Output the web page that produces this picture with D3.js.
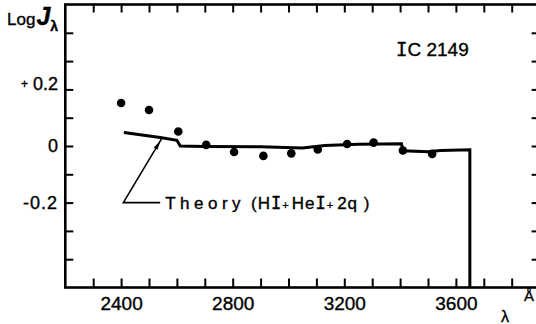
<!DOCTYPE html>
<html>
<head>
<meta charset="utf-8">
<script src="https://cdn.jsdelivr.net/npm/d3@7"></script>
<style>
  body { margin: 0; background: #fff; }
  svg { display: block; font-family: "Liberation Sans", Arial, sans-serif; }
  text { stroke: #000; stroke-width: 0.35; }
</style>
</head>
<body>
<svg id="chart" width="536" height="324"></svg>
<script>
// observed points (log J_lambda vs wavelength in A)
const obsLambda = [2400, 2500, 2605, 2705, 2805, 2910, 3010, 3105, 3210, 3305, 3410, 3515];
const obsLogJ = [0.152, 0.127, 0.051, 0.004, -0.021, -0.035, -0.026, -0.012, 0.007, 0.012, -0.016, -0.028];

// theory curve (HI + HeI + 2q)
const theoryLambda = [2410, 2540, 2600, 2612, 2700, 2900, 3050, 3130, 3250, 3405, 3410, 3500, 3545, 3650, 3650];
const theoryLogJ = [0.048, 0.030, 0.020, 0.000, -0.002, -0.003, -0.007, 0.002, 0.006, 0.008, -0.017, -0.020, -0.016, -0.013, -0.5];

// ticks and labels
const xTickStep = 100;
const xLabels = [2400, 2800, 3200, 3600];
const yTicks = [-0.4, -0.3, -0.2, -0.1, 0, 0.1, 0.2, 0.3, 0.4];
const yLabels = [[0.2, "+"], [0, ""], [-0.2, "-"]];

const svg = d3.select("#chart");
const SERIF_I = "DejaVu Sans Mono, monospace";  // "I" with bars, as in the scan

const x = d3.scaleLinear().domain([2200, 3900]).range([65.3, 539.6]);
const y = d3.scaleLinear().domain([-0.5, 0.5]).range([287.5, 4.5]);

const xTicks = d3.range(2300, 3900, xTickStep);

// frame
svg.append("rect")
    .attr("x", x(2200)).attr("y", y(0.5))
    .attr("width", x(3900) - x(2200)).attr("height", y(-0.5) - y(0.5))
    .attr("fill", "none").attr("stroke", "#000").attr("stroke-width", 2.6);

// bottom axis
svg.append("g")
    .attr("transform", `translate(0,${y(-0.5)})`)
    .call(d3.axisBottom(x).tickValues(xTicks).tickSize(-9).tickPadding(9)
        .tickFormat(d => xLabels.includes(d) ? d : ""))
    .call(g => g.select(".domain").remove())
    .call(g => g.selectAll("line").attr("stroke", "#000").attr("stroke-width", 2))
    .call(g => g.selectAll("text").attr("font-size", 19).attr("fill", "#000")
        .attr("font-family", "Liberation Sans, Arial, sans-serif"));

// top axis (ticks only)
svg.append("g")
    .attr("transform", `translate(0,${y(0.5)})`)
    .call(d3.axisTop(x).tickValues(xTicks).tickSize(-8).tickFormat(""))
    .call(g => g.select(".domain").remove())
    .call(g => g.selectAll("line").attr("stroke", "#000").attr("stroke-width", 2));

// left axis
svg.append("g")
    .attr("transform", `translate(${x(2200)},0)`)
    .call(d3.axisLeft(y).tickValues(yTicks).tickSize(-8).tickFormat(""))
    .call(g => g.select(".domain").remove())
    .call(g => g.selectAll("line").attr("stroke", "#000").attr("stroke-width", 2));

// right axis
svg.append("g")
    .attr("transform", `translate(${x(3900)},0)`)
    .call(d3.axisRight(y).tickValues(yTicks).tickSize(-8).tickFormat(""))
    .call(g => g.select(".domain").remove())
    .call(g => g.selectAll("line").attr("stroke", "#000").attr("stroke-width", 2));

// y labels
const yl = svg.append("g").attr("font-size", 18).attr("text-anchor", "end");
yLabels.forEach(([v, sign]) => {
    const t = yl.append("text").attr("x", 58).attr("y", y(v)).attr("dy", "0.36em");
    if (sign === "+") {
        t.append("tspan").attr("font-size", 12).attr("dy", "-0.1em").text("+");
        t.append("tspan").attr("dx", 5).attr("dy", "0.1em").text(d3.format(".1f")(Math.abs(v)));
    } else if (sign === "-") {
        t.append("tspan").attr("letter-spacing", 1).text("-" + d3.format(".1f")(Math.abs(v)));
    } else {
        t.text("0");
    }
});

// y axis title: Log J_lambda
const title = svg.append("text").attr("x", 7).attr("y", 25);
title.append("tspan").attr("font-size", 17).text("Log");
title.append("tspan").attr("font-size", 25).attr("font-weight", "bold").attr("font-style", "italic")
    .attr("dx", 1).text("J");
title.append("tspan").attr("font-size", 14).attr("font-weight", "bold").attr("dy", 6).text("λ");

// x unit labels
svg.append("text").attr("x", 505).attr("y", 322).attr("text-anchor", "middle")
    .attr("font-size", 16).text("λ");
svg.append("text").attr("x", 524).attr("y", 301).attr("font-size", 15).text("Å");

// object name
const name = svg.append("text").attr("x", 396).attr("y", 56).attr("font-size", 19);
name.append("tspan").attr("font-family", SERIF_I).text("I");
name.append("tspan").text("C 2149");

// theory curve
const line = d3.line().x(d => x(d[0])).y(d => y(d[1]));
svg.append("path")
    .datum(theoryLambda.map((l, i) => [l, theoryLogJ[i]]))
    .attr("d", line)
    .attr("fill", "none").attr("stroke", "#000").attr("stroke-width", 3)
    .attr("stroke-linejoin", "miter");

// observed dots
svg.append("g")
    .selectAll("circle")
    .data(obsLambda.map((l, i) => [l, obsLogJ[i]]))
    .enter().append("circle")
    .attr("cx", d => x(d[0]))
    .attr("cy", d => y(d[1]))
    .attr("r", 4.3)
    .attr("fill", "#000");

// pointer to the theory curve
const elbow = [2408, -0.2], hEnd = [2540, -0.2], tip = [2546, 0.027];
svg.append("path")
    .attr("d", line([hEnd, elbow, tip]))
    .attr("fill", "none").attr("stroke", "#000").attr("stroke-width", 1.6);
{
    const x0 = x(elbow[0]), y0 = y(elbow[1]), x1 = x(tip[0]), y1 = y(tip[1]);
    const len = Math.hypot(x1 - x0, y1 - y0);
    const ux = (x1 - x0) / len, uy = (y1 - y0) / len;
    const ax = x1 - ux * 3, ay = y1 - uy * 3;      // arrow tip a bit before curve
    const bx = ax - ux * 9, by = ay - uy * 9;
    svg.append("path")
        .attr("d", `M${ax},${ay}L${bx - uy * 2.2},${by + ux * 2.2}L${bx + uy * 2.2},${by - ux * 2.2}Z`)
        .attr("fill", "#000");
}

// annotation text
const ann = svg.append("text").attr("x", x(hEnd[0]) + 5).attr("y", y(-0.2) + 6.5).attr("font-size", 17);
ann.append("tspan").attr("letter-spacing", 4.5).text("Theory");
ann.append("tspan").attr("dx", 6).attr("letter-spacing", 1).text("(H");
ann.append("tspan").attr("font-family", SERIF_I).text("I");
ann.append("tspan").attr("dx", 1).attr("font-size", 11).text("+");
ann.append("tspan").attr("dx", 3).attr("letter-spacing", 1).text("He");
ann.append("tspan").attr("font-family", SERIF_I).text("I");
ann.append("tspan").attr("dx", 1).attr("font-size", 11).text("+");
ann.append("tspan").attr("dx", 4).attr("letter-spacing", 1).text("2q )");
</script>
</body>
</html>
